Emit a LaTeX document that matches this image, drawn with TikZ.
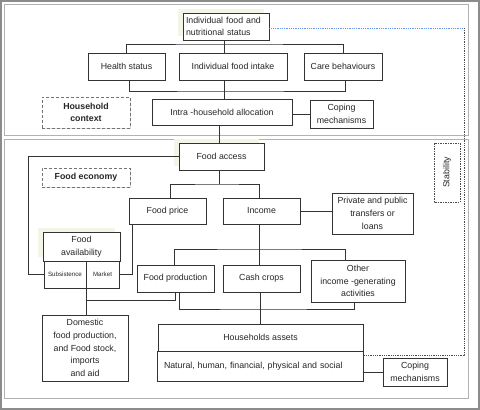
\documentclass[tikz,border=0pt]{standalone}
\usepackage{fontspec}
\setmainfont{Liberation Sans}
\usetikzlibrary{shadows}
\definecolor{paleshade}{RGB}{243,246,230}
\definecolor{linkblue}{RGB}{100,150,235}

\begin{document}
\begin{tikzpicture}[x=1pt, y=-1pt,
    box/.style={draw=black!80, fill=white, text=black!85, line width=0.7pt, align=center,
      inner sep=2pt, font=\fontsize{8.8}{12.7}\selectfont},
    context/.style={box, draw=black!55, line width=1pt, dash pattern=on 3pt off 2pt,
      font=\fontsize{8.8}{12.7}\selectfont\bfseries,
      drop shadow={opacity=0.25, shadow xshift=1pt, shadow yshift=-1pt}},
    cell/.style={box, line width=1pt, font=\fontsize{6.2}{8}\selectfont},
    link/.style={black!80, line width=0.7pt},
    panel/.style={black!30, line width=0.8pt}]
  \useasboundingbox (0,0) rectangle (480,410);

  % frames
  \draw[black!45, line width=1.2pt] (1,1) rectangle (479,409);
  \draw[panel] (4,4) rectangle (468,135);
  \draw[panel] (4,139) rectangle (468,398);

  % light shades behind some boxes
  \fill[paleshade] (178,9) rectangle (264,36);
  \fill[paleshade] (174,139) rectangle (259,166);
  \fill[paleshade] (38,228) rectangle (115,257);

  % household level
  \node[box, minimum width=86, minimum height=27, text width=80, align=left, inner xsep=3pt]
    (status) at (226,26.5) {Individual food and\\nutritional status};
  \node[box, minimum width=77, minimum height=27] (health) at (126.5,66.5) {Health status};
  \node[box, minimum width=108, minimum height=27] (intake) at (233,66.5) {Individual food intake};
  \node[box, minimum width=78, minimum height=27] (care) at (343,66.5) {Care behaviours};
  \node[context, minimum width=88, minimum height=31] (hhcontext) at (86,112.5) {Household\\context};
  \node[box, minimum width=140, minimum height=26] (alloc) at (222,112) {Intra -household allocation};
  \node[box, minimum width=63, minimum height=28] (coping1) at (341.5,114) {Coping\\mechanisms};

  % food economy
  \node[box, minimum width=85, minimum height=27] (access) at (221.5,156.5) {Food access};
  \node[context, minimum width=88, minimum height=19] (economy) at (86,177.5) {Food economy};
  \node[box, minimum width=77, minimum height=26] (price) at (167.5,211) {Food price};
  \node[box, minimum width=77, minimum height=26] (income) at (261.5,211) {Income};
  \node[box, minimum width=81, minimum height=41] (transfers) at (372.5,213.5)
    {Private and public\\transfers or\\loans};
  \node[box, draw=black!70, dash pattern=on 1.5pt off 1pt, minimum width=59, minimum height=26,
    rotate=90] (stability) at (447,172.5) {Stability};

  \node[box, minimum width=77, minimum height=29] (avail) at (81.5,246.5) {Food\\availability};
  \node[cell, minimum width=42, minimum height=27] (subsist) at (65,274.5) {Subsistence};
  \node[cell, minimum width=33, minimum height=27] (market) at (102.5,274.5) {Market};

  \node[box, minimum width=77, minimum height=27] (foodprod) at (175.5,278.5) {Food production};
  \node[box, minimum width=77, minimum height=27] (cash) at (261.5,278.5) {Cash crops};
  \node[box, minimum width=94, minimum height=42] (other) at (358,281)
    {Other\\income -generating\\activities};

  \node[box, minimum width=86, minimum height=66] (domestic) at (85,348)
    {Domestic\\food production,\\and Food stock,\\imports\\and aid};
  \node[box, minimum width=205, minimum height=27] (assets) at (260.5,337.5) {Households assets};
  \node[box, minimum height=30, text width=192, align=left, inner xsep=7pt] (natural) at (260,366)
    {Natural, human, financial, physical and social};
  \node[box, minimum width=64, minimum height=28] (coping2) at (415,372) {Coping\\mechanisms};

  % connectors, top panel
  \coordinate (t1) at (224,44);
  \coordinate (t2) at (224,91);
  \draw[link] (health.north) |- (t1) -| (care.north);
  \draw[link] (t1 |- status.south) -- (t1 |- intake.north);
  \draw[link] ([xshift=3pt]health.south) |- (t2) -| ([xshift=2pt]care.south);
  \draw[link] (t2 |- intake.south) -- (t2 |- alloc.north);
  \draw[link] (alloc.east |- coping1.west) -- (coping1.west);
  \draw[link] ([xshift=-3pt]alloc.south) -- ([xshift=-2.5pt]access.north);

  % connectors, bottom panel
  \coordinate (t3) at (219,184);
  \coordinate (t4) at (259,249);
  \coordinate (j1) at (86,300);
  \coordinate (j2) at (260,309);
  \draw[link] (access.west) -| ([xshift=-15pt]subsist.west) -- (subsist.west);
  \draw[link] ([xshift=-2.5pt]access.south) -- (t3);
  \draw[link] ([xshift=2.5pt]price.north) |- (t3) -| ([xshift=-2.5pt]income.north);
  \draw[link] (income.east) -- (transfers.west |- income.east);
  \draw[link] ([xshift=-35.5pt]price.south) |- (market.east);
  \draw[link] ([xshift=-2.5pt]income.south) -- (t4);
  \draw[link] ([xshift=-1.5pt]foodprod.north) |- (t4) -| ([xshift=-13pt]other.north);
  \draw[link] (t4) -- ([xshift=-2.5pt]cash.north);
  \draw[link] (subsist.south east) -- (subsist.south east |- domestic.north);
  \draw[link] (foodprod.south) |- (j1);
  \draw[link] ([xshift=3.5pt]foodprod.south) |- (j2) -| ([xshift=-4pt]other.south);
  \draw[link] ([xshift=-1.5pt]cash.south) -- ([xshift=-0.5pt]assets.north);
  \draw[link] (natural.east |- coping2.west) -- (coping2.west);

  % stability loop
  \coordinate (d1) at (464,28);
  \draw[linkblue, line width=0.8pt, densely dotted] (status.east |- 0,28) -- (d1);
  \draw[black!70, line width=0.8pt, densely dotted] (d1) |- ([yshift=-5pt]natural.north east);
\end{tikzpicture}
\end{document}
